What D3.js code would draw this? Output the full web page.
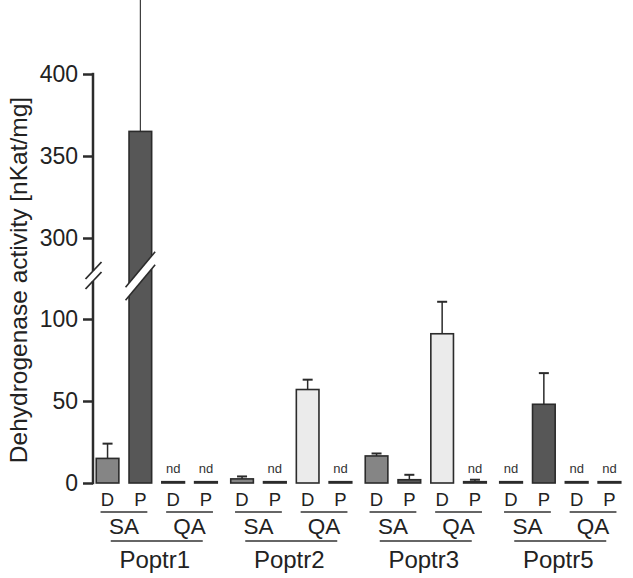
<!DOCTYPE html>
<html>
<head>
<meta charset="utf-8">
<script src="https://cdn.jsdelivr.net/npm/d3@7"></script>
<style>
  body { margin: 0; background: #fff; }
  svg { display: block; font-family: 'Liberation Sans', Arial, sans-serif; }
</style>
</head>
<body>
<svg id="chart"></svg>
<script>
// data (nKat/mg); nd = not detected
const genes = ['Poptr1', 'Poptr2', 'Poptr3', 'Poptr5']
const substrates = ['SA', 'QA']
const cofactors = ['D', 'P']
const conditions = ['SA-D', 'SA-P', 'QA-D', 'QA-P']
const means = {
  Poptr1: [15, 365, 0.8, 0.8],
  Poptr2: [2.5, 0.8, 57, 0.8],
  Poptr3: [16.5, 2, 91, 0.8],
  Poptr5: [0.8, 48, 0.8, 0.8]
}
const errors = {
  Poptr1: [9, 82, 0, 0],
  Poptr2: [1.5, 0, 6, 0],
  Poptr3: [1.5, 3, 19.5, 1.2],
  Poptr5: [0, 19, 0, 0]
}
const notDetected = {
  Poptr1: [false, false, true, true],
  Poptr2: [false, true, false, true],
  Poptr3: [false, false, false, true],
  Poptr5: [true, false, true, true]
}
const lowerTicks = [0, 50, 100]
const upperTicks = [300, 350, 400]

const width = 633
const height = 578
const fills = { 'SA-D': '#858585', 'SA-P': '#575757', 'QA-D': '#ebebeb', 'QA-P': '#4a4a4a' }
const ink = '#2b2b2b'

const svg = d3.select('#chart')
  .attr('width', width)
  .attr('height', height)

// broken y axis: two linear pieces
const yLow = d3.scaleLinear().domain([0, 100]).range([483, 319])
const yUp = d3.scaleLinear().domain([300, 400]).range([238, 74])
const lowMax = 115
const breakY = 276
const y = v => (v <= lowMax ? yLow(v) : yUp(v))

const x0 = d3.scaleBand().domain(genes).range([89.5, 627.5])
const x1 = d3.scaleBand().domain(conditions)
  .range([1.65, x0.bandwidth() - 1.65])
  .paddingInner(0.31).paddingOuter(0.155)

const rows = genes.flatMap(g => conditions.map((c, i) => ({
  gene: g,
  cond: c,
  value: means[g][i],
  err: errors[g][i],
  nd: notDetected[g][i]
})))

const cx = d => x0(d.gene) + x1(d.cond) + x1.bandwidth() / 2

// axis
const axisX = 93
const lowerAxis = d3.axisLeft(yLow).tickValues(lowerTicks).tickSize(10).tickPadding(5)
const upperAxis = d3.axisLeft(yUp).tickValues(upperTicks).tickSize(10).tickPadding(5)

for (const ax of [lowerAxis, upperAxis]) {
  const g = svg.append('g')
    .attr('transform', `translate(${axisX},0)`)
    .call(ax)
  g.select('.domain').remove()
  g.selectAll('.tick line').attr('stroke', ink).attr('stroke-width', 2.5)
  g.selectAll('.tick text')
    .attr('fill', '#222')
    .attr('font-size', 23)
    .attr('font-family', "'Liberation Sans', Arial, sans-serif")
}

svg.append('line')
  .attr('x1', axisX).attr('x2', axisX)
  .attr('y1', yLow(0) + 1.2).attr('y2', breakY + 5)
  .attr('stroke', ink).attr('stroke-width', 2.5)
svg.append('line')
  .attr('x1', axisX).attr('x2', axisX)
  .attr('y1', breakY - 5).attr('y2', yUp(400) - 1.2)
  .attr('stroke', ink).attr('stroke-width', 2.5)

// axis break slashes
for (const off of [-5, 5]) {
  svg.append('line')
    .attr('x1', axisX - 7.5).attr('y1', breakY + off + 8)
    .attr('x2', axisX + 8.5).attr('y2', breakY + off - 9)
    .attr('stroke', ink).attr('stroke-width', 1.8)
}

// bars
svg.append('g')
  .selectAll('rect')
  .data(rows)
  .join('rect')
  .attr('x', d => x0(d.gene) + x1(d.cond))
  .attr('width', x1.bandwidth())
  .attr('y', d => y(d.value))
  .attr('height', d => yLow(0) - y(d.value))
  .attr('fill', d => fills[d.cond])
  .attr('stroke', ink)
  .attr('stroke-width', 1.6)

// break across the tall bar
rows.filter(d => d.value > lowMax).forEach(d => {
  const left = x0(d.gene) + x1(d.cond) - 3.5
  const right = left + x1.bandwidth() + 7
  const slope = 1.2
  const mid = (left + right) / 2
  const yAt = (xx, off) => breakY + off - (xx - mid) * slope
  svg.append('polygon')
    .attr('points', [
      [left, yAt(left, -6.5)], [right, yAt(right, -6.5)],
      [right, yAt(right, 6.5)], [left, yAt(left, 6.5)]
    ].map(p => p.join(',')).join(' '))
    .attr('fill', '#fff')
  for (const off of [-6.5, 6.5]) {
    svg.append('line')
      .attr('x1', left).attr('y1', yAt(left, off))
      .attr('x2', right).attr('y2', yAt(right, off))
      .attr('stroke', ink).attr('stroke-width', 1.6)
  }
})

// error bars
const errRows = rows.filter(d => d.err > 0)
const eb = svg.append('g')
  .attr('stroke', ink)
eb.selectAll('line.stem')
  .data(errRows)
  .join('line')
  .attr('class', 'stem')
  .attr('x1', cx).attr('x2', cx)
  .attr('y1', d => y(d.value))
  .attr('y2', d => y(d.value + d.err))
  .attr('stroke-width', d => (d.value > lowMax ? 1.1 : 1.5))
eb.selectAll('line.cap')
  .data(errRows)
  .join('line')
  .attr('class', 'cap')
  .attr('x1', d => cx(d) - 5).attr('x2', d => cx(d) + 5)
  .attr('y1', d => y(d.value + d.err))
  .attr('y2', d => y(d.value + d.err))
  .attr('stroke-width', 2)

// nd labels
svg.append('g')
  .selectAll('text')
  .data(rows.filter(d => d.nd))
  .join('text')
  .attr('x', cx)
  .attr('y', 473)
  .attr('text-anchor', 'middle')
  .attr('font-size', 13)
  .attr('fill', '#333')
  .text('nd')

// category labels under the axis
const labels = svg.append('g').attr('fill', '#222').attr('text-anchor', 'middle')
labels.selectAll('text.cof')
  .data(rows)
  .join('text')
  .attr('class', 'cof')
  .attr('x', cx)
  .attr('y', 506)
  .attr('font-size', 18.5)
  .text(d => d.cond.split('-')[1])

const pairs = genes.flatMap(g => substrates.map(s => {
  const a = x0(g) + x1(s + '-' + cofactors[0]) + x1.bandwidth() / 2
  const b = x0(g) + x1(s + '-' + cofactors[1]) + x1.bandwidth() / 2
  return { gene: g, sub: s, a, b }
}))

svg.append('g')
  .selectAll('line')
  .data(pairs)
  .join('line')
  .attr('x1', d => d.a - 7).attr('x2', d => d.b + 7)
  .attr('y1', 512).attr('y2', 512)
  .attr('stroke', '#333').attr('stroke-width', 1.5)

labels.selectAll('text.sub')
  .data(pairs)
  .join('text')
  .attr('class', 'sub')
  .attr('x', d => (d.a + d.b) / 2)
  .attr('y', 534)
  .attr('font-size', 22.5)
  .text(d => d.sub)

svg.append('g')
  .selectAll('line')
  .data(genes)
  .join('line')
  .attr('x1', g => x0(g) + x0.bandwidth() / 2 - 46)
  .attr('x2', g => x0(g) + x0.bandwidth() / 2 + 46)
  .attr('y1', 541).attr('y2', 541)
  .attr('stroke', '#333').attr('stroke-width', 1.5)

labels.selectAll('text.gene')
  .data(genes)
  .join('text')
  .attr('class', 'gene')
  .attr('x', g => x0(g) + x0.bandwidth() / 2 - 2)
  .attr('y', 568)
  .attr('font-size', 24)
  .text(g => g)

// y title
svg.append('text')
  .attr('transform', 'translate(27,280) rotate(-90)')
  .attr('text-anchor', 'middle')
  .attr('font-size', 24.5)
  .attr('fill', '#222')
  .text('Dehydrogenase activity [nKat/mg]')
</script>
</body>
</html>
